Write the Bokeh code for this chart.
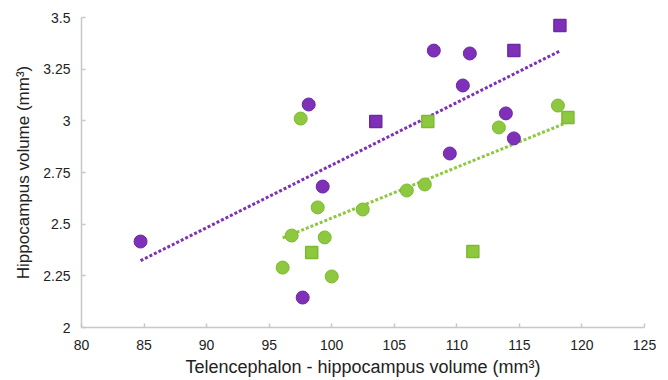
import numpy as np
from bokeh.plotting import figure
from bokeh.models import Range1d, FixedTicker
from bokeh.embed import file_html
from bokeh.resources import INLINE

# Data
purple_circle_x = [84.72, 98.16, 99.28, 97.68, 108.16, 111.04, 110.48, 113.92, 114.56, 109.44]
purple_circle_y = [2.416, 3.079, 2.682, 2.145, 3.340, 3.326, 3.171, 3.036, 2.915, 2.842]
purple_square_x = [103.52, 114.56, 118.24]
purple_square_y = [2.997, 3.340, 3.461]
green_circle_x = [97.52, 98.88, 96.80, 99.44, 96.08, 100.00, 102.48, 106.00, 107.44, 113.36, 118.08]
green_circle_y = [3.011, 2.581, 2.445, 2.436, 2.290, 2.247, 2.571, 2.663, 2.692, 2.968, 3.074]
green_square_x = [98.40, 107.68, 111.28, 118.88]
green_square_y = [2.363, 2.997, 2.368, 3.016]

x_ticks = [80, 85, 90, 95, 100, 105, 110, 115, 120, 125]
y_ticks = [2, 2.25, 2.5, 2.75, 3, 3.25, 3.5]
y_tick_labels = {2: "2", 2.25: "2.25", 2.5: "2.5", 2.75: "2.75", 3: "3", 3.25: "3.25", 3.5: "3.5"}

PURPLE = "#7E30B9"
PURPLE_EDGE = "#6E28A3"
GREEN = "#8DC83F"
GREEN_EDGE = "#7DBA33"
FONT = "Liberation Sans"

p = figure(width=656, height=380, output_backend="svg", toolbar_location=None,
           x_range=Range1d(80, 125), y_range=Range1d(2, 3.5),
           min_border_left=81, min_border_right=12, min_border_top=17, min_border_bottom=53)
p.outline_line_color = None
p.grid.grid_line_color = None

# Trend lines (least-squares fits of each group)
def trend(xs, ys):
    xs = np.asarray(xs, float)
    ys = np.asarray(ys, float)
    k, b = np.polyfit(xs, ys, 1)
    x0, x1 = xs.min(), xs.max()
    return [x0, x1], [k * x0 + b, k * x1 + b]

px_all = purple_circle_x + purple_square_x
py_all = purple_circle_y + purple_square_y
gx_all = green_circle_x + green_square_x
gy_all = green_circle_y + green_square_y

tx, ty = trend(px_all, py_all)
p.line(tx, ty, line_color=PURPLE, line_width=3, line_dash="3 2")
tx, ty = trend(gx_all, gy_all)
p.line(tx, ty, line_color=GREEN, line_width=3, line_dash="3 2")

p.scatter(purple_circle_x, purple_circle_y, marker="circle", size=13,
          fill_color=PURPLE, line_color=PURPLE_EDGE, line_width=1)
p.scatter(green_circle_x, green_circle_y, marker="circle", size=13,
          fill_color=GREEN, line_color=GREEN_EDGE, line_width=1)
p.scatter(purple_square_x, purple_square_y, marker="square", size=12,
          fill_color=PURPLE, line_color=PURPLE_EDGE, line_width=1.5)
p.scatter(green_square_x, green_square_y, marker="square", size=12,
          fill_color=GREEN, line_color=GREEN_EDGE, line_width=1.5)

for ax in (p.xaxis[0], p.yaxis[0]):
    ax.axis_line_color = "#C8C8C8"
    ax.axis_line_width = 1.5
    ax.major_tick_line_color = "#C8C8C8"
    ax.major_tick_line_width = 1.5
    ax.major_tick_in = 4
    ax.major_tick_out = 0
    ax.minor_tick_line_color = None
    ax.major_label_text_font = FONT
    ax.major_label_text_font_size = "14px"
    ax.major_label_text_color = "#222222"
    ax.axis_label_text_font = FONT
    ax.axis_label_text_font_style = "normal"
    ax.axis_label_text_color = "#222222"

p.xaxis.axis_label_text_font_size = "18px"
p.yaxis.axis_label_text_font_size = "17px"
p.xaxis.ticker = FixedTicker(ticks=x_ticks)
p.yaxis.ticker = FixedTicker(ticks=y_ticks)
p.yaxis.major_label_overrides = y_tick_labels
p.xaxis.axis_label = "Telencephalon - hippocampus volume (mm³)"
p.yaxis.axis_label = "Hippocampus volume (mm³)"
p.xaxis.major_label_standoff = 12
p.xaxis.axis_label_standoff = 4
p.yaxis.major_label_standoff = 11
p.yaxis.axis_label_standoff = 7

open("out.html", "w").write(file_html(p, INLINE))
